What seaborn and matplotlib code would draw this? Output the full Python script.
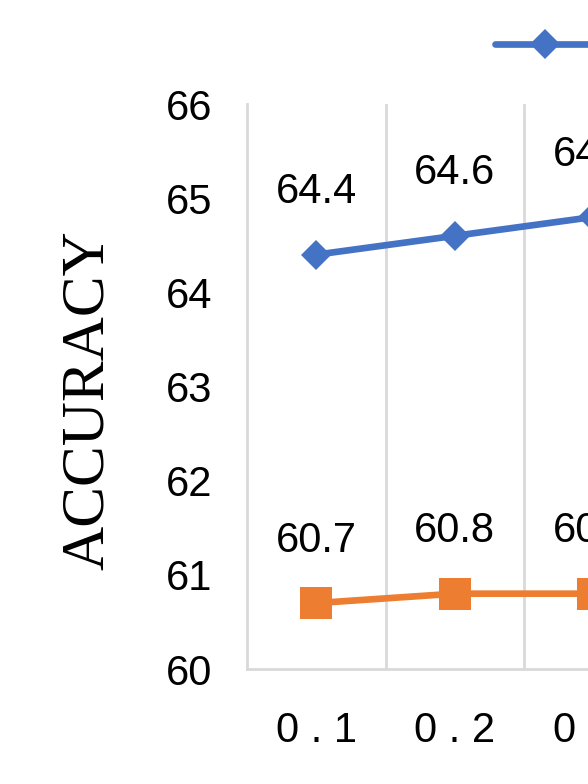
import matplotlib
matplotlib.use("Agg")
import matplotlib.pyplot as plt
import numpy as np
import pandas as pd
import seaborn as sns

# --- Data ---
ratios = ["0.1", "0.2", "0.3"]
series_a = [64.4, 64.6, 64.8]
series_b = [60.7, 60.8, 60.8]
series_names = ["Series 1", "Series 2"]
y_ticks = [60, 61, 62, 63, 64, 65, 66]

BLUE = "#4472C4"
ORANGE = "#ED7D31"
GRID = "#D9D9D9"

df = pd.DataFrame({
    "ratio": ratios * 2,
    "acc": series_a + series_b,
    "series": [series_names[0]] * len(ratios) + [series_names[1]] * len(ratios),
})

sns.set_style("white")
plt.rcParams["font.family"] = ["Liberation Sans", "DejaVu Sans"]
plt.rcParams["text.color"] = "black"

fig = plt.figure(figsize=(5.88, 7.84), dpi=100)
# axes run past the right edge of the canvas, like the cropped original
ax = fig.add_axes([247 / 588, 115 / 784, 415.5 / 588, 565 / 784])

sns.lineplot(data=df, x="ratio", y="acc", hue="series",
             palette=[BLUE, ORANGE], linewidth=4.8, ax=ax, legend=False, sort=False)
# markers sized separately (diamond vs square)
lines = ax.get_lines()
lines[0].set_marker("D"); lines[0].set_markersize(15.5)
lines[0].set_markeredgewidth(0)
lines[1].set_marker("s"); lines[1].set_markersize(23.5)
lines[1].set_markeredgewidth(0)

# data labels
for vals in (series_a, series_b):
    for i, v in enumerate(vals):
        ax.annotate(f"{v:.1f}", (i, v), xytext=(0, 37), textcoords="offset points",
                    ha="center", va="baseline", fontsize=30, color="black")

ax.set_ylim(60, 66)
ax.set_yticks(y_ticks)
ax.set_xlim(-0.5, len(ratios) - 0.5)
ax.set_xticks(range(len(ratios)))
ax.set_xticklabels([r.replace(".", " . ") for r in ratios])
ax.set_xticks(np.arange(0.5, len(ratios) - 0.5, 1), minor=True)
ax.grid(False)
ax.grid(True, which="minor", axis="x", color=GRID, linewidth=2)
ax.tick_params(axis="both", which="both", length=0, labelsize=30, colors="black")
ax.tick_params(axis="y", pad=25)
ax.tick_params(axis="x", pad=30)

for s in ("top", "right"):
    ax.spines[s].set_visible(False)
for s in ("left", "bottom"):
    ax.spines[s].set_color(GRID)
    ax.spines[s].set_linewidth(2)

ax.set_xlabel("")
ax.set_ylabel("ACCURACY", fontsize=44, family=["Liberation Serif", "DejaVu Serif"],
              color="black")
ax.yaxis.set_label_coords(-(247 - 88) / 415.5, (669 - 400) / 565, transform=ax.transAxes)
ax.yaxis.label.set_va("center")

# legend at the top, mostly cut off by the canvas edge
handles = [plt.Line2D([], [], color=BLUE, marker="D", markersize=15.5, linewidth=4.8,
                      markeredgewidth=0),
           plt.Line2D([], [], color=ORANGE, marker="s", markersize=15.5, linewidth=4.8,
                      markeredgewidth=0)]
fig.legend(handles, series_names, loc="center left", bbox_to_anchor=(495 / 588, 1 - 48 / 784),
           ncol=2, frameon=False, fontsize=30, handlelength=2.4, borderpad=0,
           borderaxespad=0)

fig.savefig("out.png", dpi=100)
